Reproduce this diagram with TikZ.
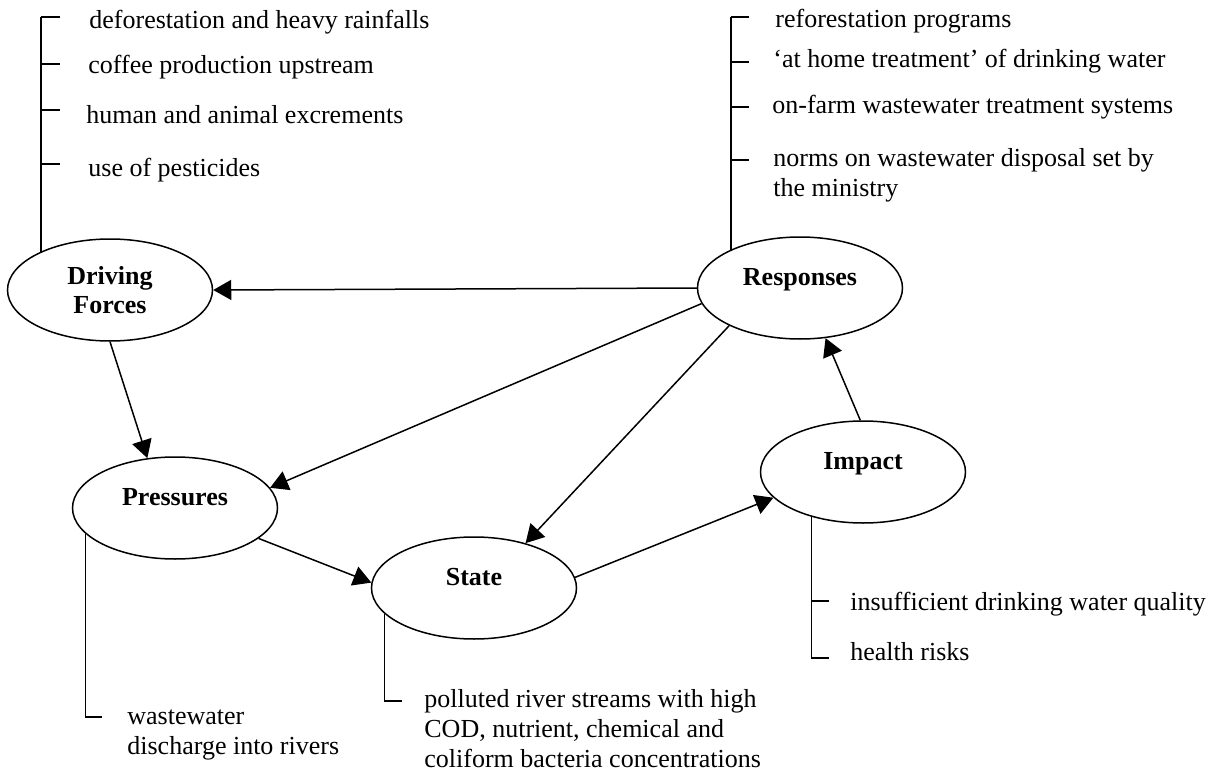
\documentclass[tikz,border=0pt]{standalone}
\usepackage{fontspec}
\setmainfont{Liberation Serif}
\usetikzlibrary{arrows.meta,shapes.geometric}
\tikzset{
  dpsir/.style={
    ellipse, draw, line width=0.75pt,
    minimum width=102.5pt, minimum height=51pt,
    inner sep=0pt, align=center,
    font=\fontsize{13pt}{14.5pt}\selectfont\bfseries
  },
  oneline/.style={text height=9pt, text depth=12pt},
  note/.style={anchor=base west, inner sep=0pt, align=left,
    font=\fontsize{13pt}{15pt}\selectfont},
  flow/.style={-{Triangle[length=9pt,width=10pt]}, line width=0.75pt},
  bracket/.style={line width=0.75pt}
}

\begin{document}
\begin{tikzpicture}[x=0.5pt,y=-0.5pt]
  \useasboundingbox (0,0) rectangle (1217,776);
  % the five stages
  \node[dpsir] (df) at (110,290) {Driving\\Forces};
  \node[dpsir,oneline] (resp) at (800,288) {Responses};
  \node[dpsir,oneline] (pr) at (175,508) {Pressures};
  \node[dpsir,oneline] (st) at (474,588) {State};
  \node[dpsir,oneline] (imp) at (863,472) {Impact};

  % links
  \draw[flow] (resp.west) -- (df.east);
  \draw[flow] (df.south) -- (pr.119);
  \draw[flow] (resp.189) -- (pr.12);
  \draw[flow] (resp.208) -- (st.41);
  \draw[flow] (pr.340) -- (st.177);
  \draw[flow] (st.6) -- (imp.196);
  \draw[flow] (imp.93) -- (resp.297);

  % driving forces list
  \draw[bracket] (df.151) -- (df.151 |- 0,17);
  \foreach \t/\x/\b/\k [count=\i] in
    {{deforestation and heavy rainfalls}/89/28/17,
     {coffee production upstream}/88/73/64,
     {human and animal excrements}/86/123/110,
     {use of pesticides}/88/176/164}
  {
    \node[note] (dfn\i) at (\x,\b) {\t};
    \draw[bracket] (df.151 |- 0,\k) -- (60,\k);
  }

  % responses list (base = last line)
  \draw[bracket] (resp.151) -- (resp.151 |- 0,17);
  \foreach \t/\x/\b/\k [count=\i] in
    {{reforestation programs}/775/27/17,
     {‘at home treatment’ of drinking water}/773/68/62,
     {on-farm wastewater treatment systems}/772/113/107,
     {norms on wastewater disposal set by\\the ministry}/773/196/160}
  {
    \node[note] (rn\i) at (\x,\b) {\t};
    \draw[bracket] (resp.151 |- 0,\k) -- (749,\k);
  }

  % pressures
  \node[note] (prn) at (127,754) {wastewater\\discharge into rivers};
  \draw[bracket] (pr.196) |- (102,717);

  % state
  \node[note] (stn) at (424,767)
    {polluted river streams with high\\COD, nutrient, chemical and\\coliform bacteria concentrations};
  \draw[bracket] (st.196) |- (402,701);

  % impact
  \node[note] (imn1) at (850,610) {insufficient drinking water quality};
  \node[note] (imn2) at (850,660) {health risks};
  \draw[bracket] (imp.221) |- (829,658);
  \draw[bracket] (imp.221 |- 0,601) -- (829,601);
\end{tikzpicture}
\end{document}
